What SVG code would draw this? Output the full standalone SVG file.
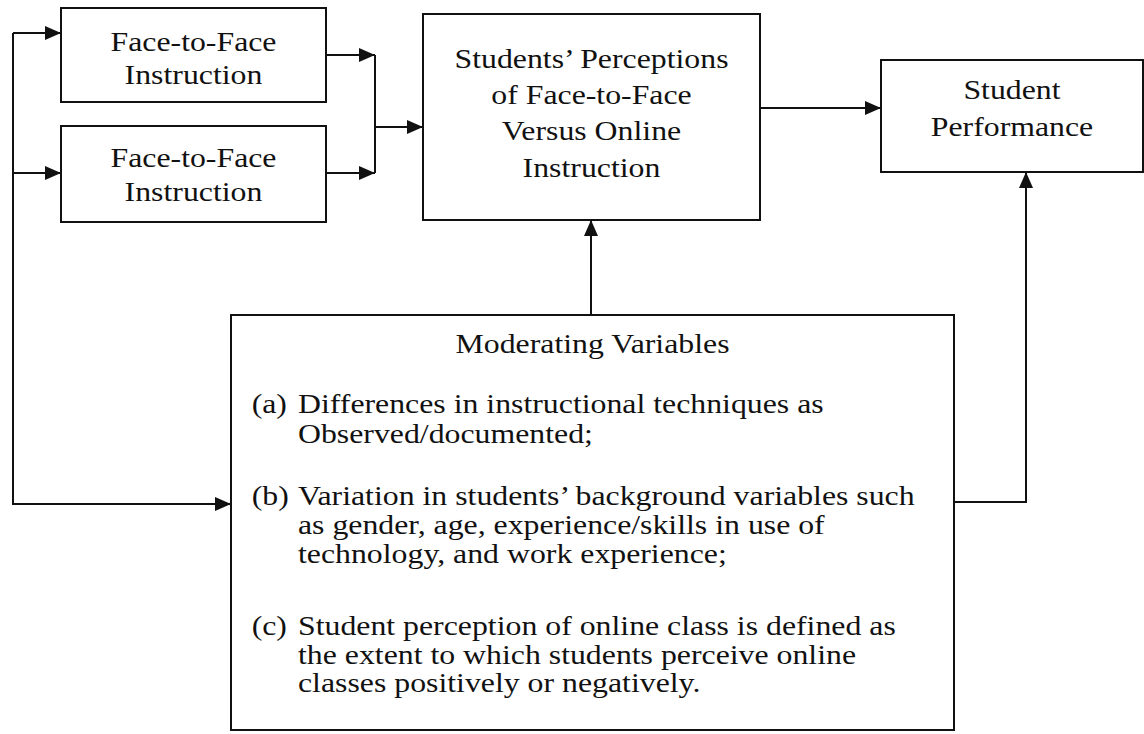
<svg xmlns="http://www.w3.org/2000/svg" width="1144" height="734" viewBox="0 0 1144 734">
  <style>
    .box { fill: #fff; stroke: #111; stroke-width: 2; }
    .wire { fill: none; stroke: #111; stroke-width: 2; }
    .t { font-family: "Liberation Serif", "Times New Roman", serif; font-size: 28px; fill: #111; }
    .c { text-anchor: middle; }
  </style>
  <defs>
    <marker id="head" markerUnits="userSpaceOnUse" markerWidth="16" markerHeight="14" refX="16" refY="7" orient="auto">
      <path d="M0,0 L16,7 L0,14 Z" fill="#111"/>
    </marker>
  </defs>

  <rect width="1144" height="734" fill="#fff"/>

  <!-- connectors -->
  <g id="connectors">
    <path class="wire" d="M13,33 H61" marker-end="url(#head)"/>
    <path class="wire" d="M13,173 H61" marker-end="url(#head)"/>
    <path class="wire" d="M13,33 V504 H231" marker-end="url(#head)"/>
    <path class="wire" d="M326,55 H375" marker-end="url(#head)"/>
    <path class="wire" d="M326,173 H375" marker-end="url(#head)"/>
    <path class="wire" d="M375,55 V173"/>
    <path class="wire" d="M375,127 H423" marker-end="url(#head)"/>
    <path class="wire" d="M760,108 H881" marker-end="url(#head)"/>
    <path class="wire" d="M591,315 V220" marker-end="url(#head)"/>
    <path class="wire" d="M954,502 H1026 V172" marker-end="url(#head)"/>
  </g>

  <!-- instruction mode, first -->
  <g id="face-to-face-1">
    <rect class="box" x="61" y="8" width="265" height="94"/>
    <text class="t c" transform="translate(193.5,50.5) scale(1.136,1)">Face-to-Face</text>
    <text class="t c" transform="translate(193.5,83.5) scale(1.136,1)">Instruction</text>
  </g>

  <!-- instruction mode, second -->
  <g id="face-to-face-2">
    <rect class="box" x="61" y="126" width="265" height="96"/>
    <text class="t c" transform="translate(193.5,167) scale(1.136,1)">Face-to-Face</text>
    <text class="t c" transform="translate(193.5,201) scale(1.136,1)">Instruction</text>
  </g>

  <!-- perceptions -->
  <g id="perceptions">
    <rect class="box" x="423" y="14" width="337" height="206"/>
    <text class="t c" transform="translate(591.5,68) scale(1.136,1)">Students’ Perceptions</text>
    <text class="t c" transform="translate(591.5,104) scale(1.136,1)">of Face-to-Face</text>
    <text class="t c" transform="translate(591.5,140) scale(1.136,1)">Versus Online</text>
    <text class="t c" transform="translate(591.5,177) scale(1.136,1)">Instruction</text>
  </g>

  <!-- outcome -->
  <g id="performance">
    <rect class="box" x="881" y="60" width="262" height="112"/>
    <text class="t c" transform="translate(1012,99) scale(1.136,1)">Student</text>
    <text class="t c" transform="translate(1012,136) scale(1.136,1)">Performance</text>
  </g>

  <!-- moderators -->
  <g id="moderating-variables">
    <rect class="box" x="231" y="315" width="723" height="415"/>
    <text class="t c" transform="translate(592.5,353) scale(1.136,1)">Moderating Variables</text>
    <g transform="translate(298,0) scale(1.136,1)">
      <text class="t" x="-40.8" y="413">(a)</text>
      <text class="t" x="0" y="413">Differences in instructional techniques as</text>
      <text class="t" x="0" y="443">Observed/documented;</text>
      <text class="t" x="-40.8" y="505">(b)</text>
      <text class="t" x="0" y="505">Variation in students’ background variables such</text>
      <text class="t" x="0" y="534">as gender, age, experience/skills in use of</text>
      <text class="t" x="0" y="563">technology, and work experience;</text>
      <text class="t" x="-40.8" y="635">(c)</text>
      <text class="t" x="0" y="635">Student perception of online class is defined as</text>
      <text class="t" x="0" y="664">the extent to which students perceive online</text>
      <text class="t" x="0" y="692">classes positively or negatively.</text>
    </g>
  </g>
</svg>
